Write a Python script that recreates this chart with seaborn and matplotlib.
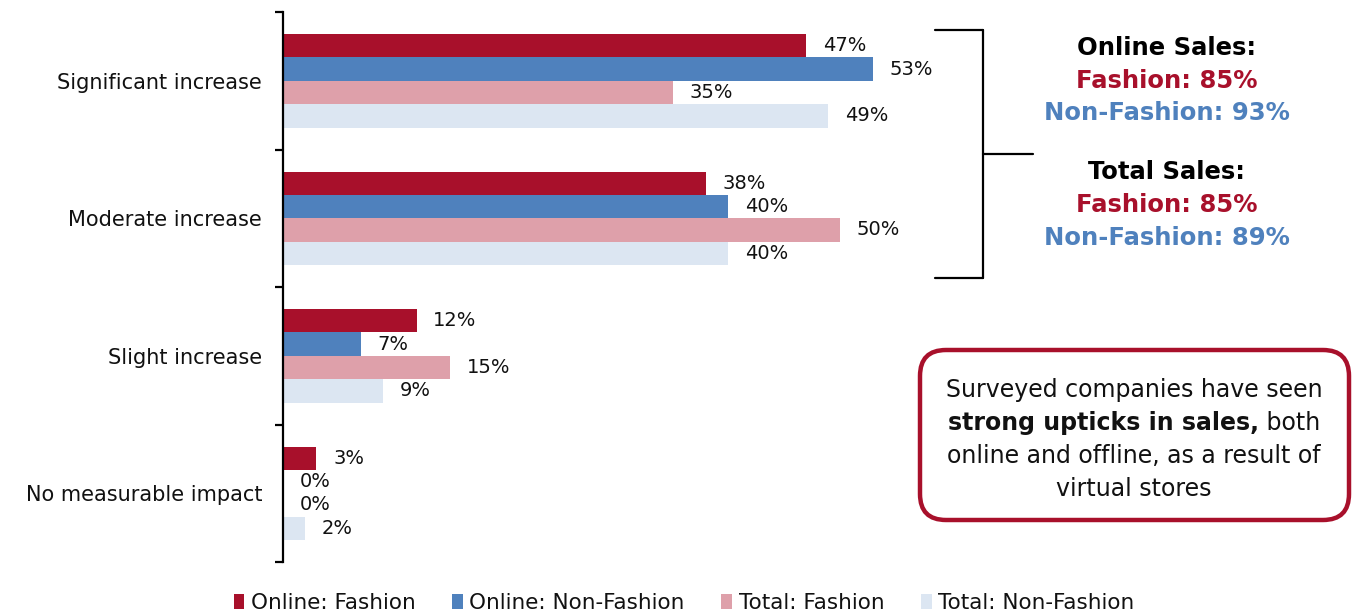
import numpy as np
import pandas as pd
import matplotlib
matplotlib.use("Agg")
import matplotlib.pyplot as plt
import seaborn as sns
from matplotlib.lines import Line2D
from matplotlib.patches import FancyBboxPatch

categories = ["Significant increase", "Moderate increase", "Slight increase", "No measurable impact"]
series = ["Online: Fashion", "Online: Non-Fashion", "Total: Fashion", "Total: Non-Fashion"]
online_fashion = [47, 38, 12, 3]
online_nonfashion = [53, 40, 7, 0]
total_fashion = [35, 50, 15, 0]
total_nonfashion = [49, 40, 9, 2]
colors = ["#A8102B", "#4F81BD", "#DEA0AA", "#DCE6F2"]

RED = "#A8102B"
BLUE = "#4F81BD"
INK = "#111111"

rows = []
for s, vals in zip(series, [online_fashion, online_nonfashion, total_fashion, total_nonfashion]):
    for c, v in zip(categories, vals):
        rows.append({"category": c, "series": s, "value": v})
df = pd.DataFrame(rows)

sns.set_style("white")
plt.rcParams["font.family"] = ["DejaVu Sans"]

W, H = 1353, 614
fig = plt.figure(figsize=(W / 100, H / 100), dpi=100)
ax = fig.add_axes([283 / W, 1 - 562 / H, (930 - 283) / W, 550 / H])

sns.barplot(data=df, y="category", x="value", hue="series", orient="h",
            palette=colors, width=0.68, saturation=1, ax=ax, legend=True,
            linewidth=0)

ax.set_xlim(0, (930 - 283) / 11.13)
ax.set_xlabel("")
ax.set_ylabel("")
ax.set_xticks([])
for sp in ["top", "right", "bottom"]:
    ax.spines[sp].set_visible(False)
ax.spines["left"].set_linewidth(1.6)
ax.spines["left"].set_color("black")
ax.tick_params(axis="y", which="major", length=0, pad=15, labelsize=15, labelcolor=INK)
ax.set_yticks(np.arange(-0.5, len(categories), 1.0), minor=True)
ax.tick_params(axis="y", which="minor", left=True, length=6, width=1.6, color="black", direction="out")

for cont in ax.containers:
    ax.bar_label(cont, labels=[f"{int(v)}%" for v in cont.datavalues],
                 padding=12, fontsize=14, color=INK)

leg = ax.get_legend()
handles = leg.legend_handles
leg.remove()
fig.legend(handles, series, loc="center", bbox_to_anchor=(684 / W, 1 - 603 / H),
           ncol=4, frameon=False, fontsize=15.5, handlelength=0.5, handleheight=0.7,
           handletextpad=0.3, columnspacing=1.7, labelcolor=INK)

# bracket
def fx(x):
    return x / W

def fy(y):
    return 1 - y / H

for xs, ys in [([935, 983], [30, 30]), ([983, 983], [30, 278]),
               ([935, 983], [278, 278]), ([983, 1033], [154, 154])]:
    fig.add_artist(Line2D([fx(x) for x in xs], [fy(y) for y in ys], color="black", lw=1.6))

side = [("Online Sales:", "black", 48), ("Fashion: 85%", RED, 81), ("Non-Fashion: 93%", BLUE, 113),
        ("Total Sales:", "black", 172), ("Fashion: 85%", RED, 205), ("Non-Fashion: 89%", BLUE, 238)]
for txt, col, y in side:
    fig.text(fx(1167), fy(y), txt, color=col, fontsize=17.5, fontweight="bold",
             ha="center", va="center")

# callout box (pixel coordinates)
box = FancyBboxPatch((920, H - 520), 1349 - 920, 520 - 350,
                     boxstyle="round,pad=0,rounding_size=26", transform=None,
                     facecolor="white", edgecolor=RED, linewidth=3.2)
fig.add_artist(box)

cx = 1134
fs = 17
fig.text(fx(cx), fy(390), "Surveyed companies have seen", fontsize=fs, ha="center", va="center", color=INK)
fig.text(fx(cx), fy(456), "online and offline, as a result of", fontsize=fs, ha="center", va="center", color=INK)
fig.text(fx(cx), fy(489), "virtual stores", fontsize=fs, ha="center", va="center", color=INK)

fig.canvas.draw()
r = fig.canvas.get_renderer()
t1 = fig.text(0, fy(423), "strong upticks in sales,", fontsize=fs, fontweight="bold", va="center", color=INK)
t2 = fig.text(0, fy(423), " both", fontsize=fs, va="center", color=INK)
w1 = t1.get_window_extent(r).width
w2 = t2.get_window_extent(r).width
x0 = cx - (w1 + w2) / 2
t1.set_x(fx(x0))
t2.set_x(fx(x0 + w1))

fig.savefig("out.png", dpi=100)
